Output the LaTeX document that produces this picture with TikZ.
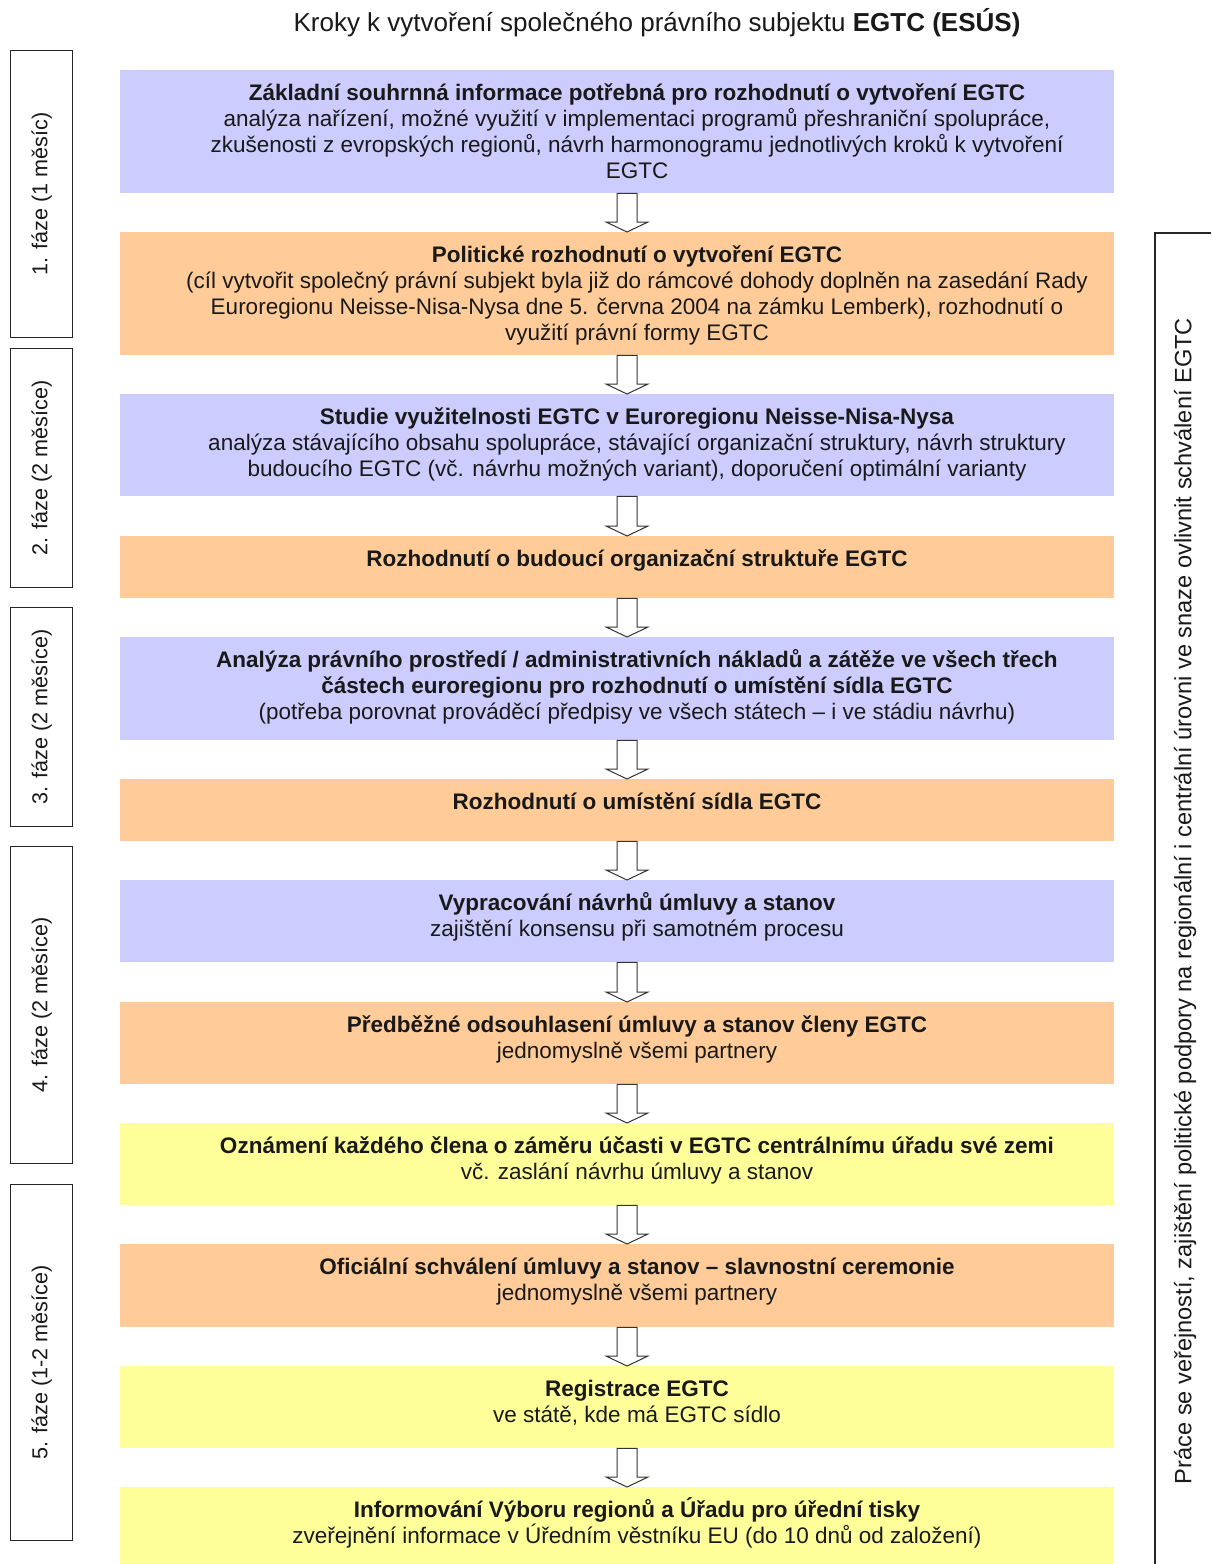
\documentclass[tikz,border=0pt]{standalone}
\usepackage{fontspec}
\setmainfont{Liberation Sans}
\usetikzlibrary{calc}
\definecolor{purp}{HTML}{CCCCFF}
\definecolor{oran}{HTML}{FFCC99}
\definecolor{yell}{HTML}{FFFF99}
\newcommand\tstrut{\rule{0pt}{20pt}}
\newcommand\blkarr[2]{%
  \draw[blockarr] ($(#1.south -| ax)+(-10,0)$) -- ($(#1.south -| ax)+(10,0)$)
    -- ($(#2.north -| ax)+(10,-10)$) -- ($(#2.north -| ax)+(21,-10)$)
    -- (#2.north -| ax) -- ($(#2.north -| ax)+(-21,-10)$)
    -- ($(#2.north -| ax)+(-10,-10)$) -- cycle;}
\begin{document}
\begin{tikzpicture}[x=1pt,y=-1pt,
  stepbox/.style={draw=none, inner sep=0pt, anchor=north west, minimum width=994pt},
  steptext/.style={anchor=north, align=center, inner sep=0pt, text=black!90,
    font=\fontsize{22.5}{26}\selectfont},
  phasebox/.style={draw=black!85, line width=1.3pt, anchor=north west, minimum width=62pt, inner sep=0pt},
  phasetext/.style={rotate=90, text=black!90, font=\fontsize{21.6}{24}\selectfont},
  sidetext/.style={rotate=90, text=black!90, font=\fontsize{23.6}{26}\selectfont},
  blockarr/.style={draw=black!80, fill=white, line width=1pt, line join=miter}
]
\useasboundingbox (0,0) rectangle (1211,1564);
\fill[white] (0,0) rectangle (1211,1564);
\coordinate (ax) at (627,0);

\node[anchor=base, text=black!90, font=\fontsize{26}{30}\selectfont] (title) at (657,31)
  {Kroky k vytvoření společného právního subjektu \textbf{EGTC (ESÚS)}};

% step boxes
\node[stepbox, fill=purp, minimum height=123pt] (b1) at (120,70) {};
\node[stepbox, fill=oran, minimum height=123pt] (b2) at (120,232) {};
\node[stepbox, fill=purp, minimum height=102pt] (b3) at (120,394) {};
\node[stepbox, fill=oran, minimum height=62pt] (b4) at (120,536) {};
\node[stepbox, fill=purp, minimum height=103pt] (b5) at (120,637) {};
\node[stepbox, fill=oran, minimum height=62pt] (b6) at (120,779) {};
\node[stepbox, fill=purp, minimum height=82pt] (b7) at (120,880) {};
\node[stepbox, fill=oran, minimum height=82pt] (b8) at (120,1002) {};
\node[stepbox, fill=yell, minimum height=82pt] (b9) at (120,1123) {};
\node[stepbox, fill=oran, minimum height=83pt] (b10) at (120,1244) {};
\node[stepbox, fill=yell, minimum height=82pt] (b11) at (120,1366) {};
\node[stepbox, fill=yell, minimum height=77pt] (b12) at (120,1487) {};

% texts
\node[steptext] (t1) at (637,80) {\tstrut\textbf{Základní souhrnná informace potřebná pro rozhodnutí o vytvoření EGTC}\\
  analýza nařízení, možné využití v implementaci programů přeshraniční spolupráce,\\
  zkušenosti z evropských regionů, návrh harmonogramu jednotlivých kroků k vytvoření\\
  EGTC};
\node[steptext] (t2) at (637,242) {\tstrut\textbf{Politické rozhodnutí o vytvoření EGTC}\\
  (cíl vytvořit společný právní subjekt byla již do rámcové dohody doplněn na zasedání Rady\\
  Euroregionu Neisse-Nisa-Nysa dne 5. června 2004 na zámku Lemberk), rozhodnutí o\\
  využití právní formy EGTC};
\node[steptext] (t3) at (637,404) {\tstrut\textbf{Studie využitelnosti EGTC v Euroregionu Neisse-Nisa-Nysa}\\
  analýza stávajícího obsahu spolupráce, stávající organizační struktury, návrh struktury\\
  budoucího EGTC (vč. návrhu možných variant), doporučení optimální varianty};
\node[steptext] (t4) at (637,546) {\tstrut\textbf{Rozhodnutí o budoucí organizační struktuře EGTC}};
\node[steptext] (t5) at (637,647) {\tstrut\textbf{Analýza právního prostředí / administrativních nákladů a zátěže ve všech třech}\\
  \textbf{částech euroregionu pro rozhodnutí o umístění sídla EGTC}\\
  (potřeba porovnat prováděcí předpisy ve všech státech – i ve stádiu návrhu)};
\node[steptext] (t6) at (637,789) {\tstrut\textbf{Rozhodnutí o umístění sídla EGTC}};
\node[steptext] (t7) at (637,890) {\tstrut\textbf{Vypracování návrhů úmluvy a stanov}\\
  zajištění konsensu při samotném procesu};
\node[steptext] (t8) at (637,1012) {\tstrut\textbf{Předběžné odsouhlasení úmluvy a stanov členy EGTC}\\
  jednomyslně všemi partnery};
\node[steptext] (t9) at (637,1133) {\tstrut\textbf{Oznámení každého člena o záměru účasti v EGTC centrálnímu úřadu své zemi}\\
  vč. zaslání návrhu úmluvy a stanov};
\node[steptext] (t10) at (637,1254) {\tstrut\textbf{Oficiální schválení úmluvy a stanov – slavnostní ceremonie}\\
  jednomyslně všemi partnery};
\node[steptext] (t11) at (637,1376) {\tstrut\textbf{Registrace EGTC}\\
  ve státě, kde má EGTC sídlo};
\node[steptext] (t12) at (637,1497) {\tstrut\textbf{Informování Výboru regionů a Úřadu pro úřední tisky}\\
  zveřejnění informace v Úředním věstníku EU (do 10 dnů od založení)};

% arrows
\blkarr{b1}{b2}
\blkarr{b2}{b3}
\blkarr{b3}{b4}
\blkarr{b4}{b5}
\blkarr{b5}{b6}
\blkarr{b6}{b7}
\blkarr{b7}{b8}
\blkarr{b8}{b9}
\blkarr{b9}{b10}
\blkarr{b10}{b11}
\blkarr{b11}{b12}

% phase boxes
\node[phasebox, minimum height=287pt] (p1) at (10,50) {};
\node[phasebox, minimum height=239pt] (p2) at (10,348) {};
\node[phasebox, minimum height=219pt] (p3) at (10,607) {};
\node[phasebox, minimum height=317pt] (p4) at (10,846) {};
\node[phasebox, minimum height=356pt] (p5) at (10,1184) {};
\node[phasetext] (p1t) at (p1.center) {1. fáze (1 měsíc)};
\node[phasetext] (p2t) at (p2.center) {2. fáze (2 měsíce)};
\node[phasetext] (p3t) at (p3.center) {3. fáze (2 měsíce)};
\node[phasetext] (p4t) at (p4.center) {4. fáze (2 měsíce)};
\node[phasetext] (p5t) at (p5.center) {5. fáze (1-2 měsíce)};

% right box
\coordinate (r1) at (1155,1564);
\coordinate (r2) at (1155,233);
\coordinate (r3) at (1211,233);
\draw[draw=black!85, line width=1.3pt] (r1) -- (r2) -- (r3);
\node[sidetext] (rt) at (1185,901) {Práce se veřejností, zajištění politické podpory na regionální i centrální úrovni ve snaze ovlivnit schválení EGTC};
\end{tikzpicture}
\end{document}
